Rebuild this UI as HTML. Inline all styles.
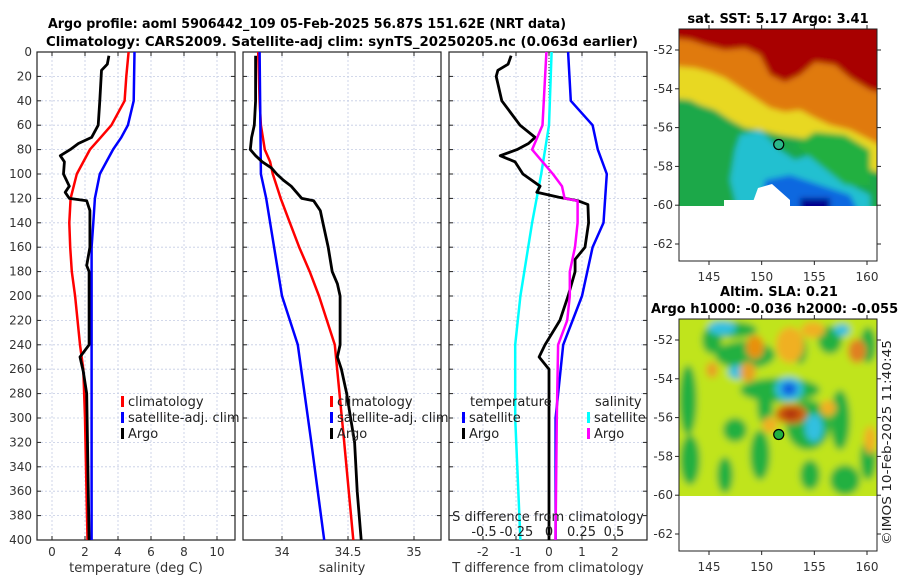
<!DOCTYPE html>
<html><head><meta charset="utf-8"><style>
body{margin:0;background:#fff;}
svg{display:block;font-family:"DejaVu Sans","Liberation Sans",sans-serif;}
</style></head><body>
<svg id="chart" width="900" height="580" viewBox="0 0 900 580">
<defs>
<filter id="blur1" x="-20%" y="-20%" width="140%" height="140%"><feGaussianBlur stdDeviation="3"/></filter>
<filter id="blur2" x="-20%" y="-20%" width="140%" height="140%"><feGaussianBlur stdDeviation="3.5"/></filter>
<clipPath id="clipM1"><rect x="679" y="29" width="198" height="177"/></clipPath>
<clipPath id="clipM2"><rect x="679" y="319" width="198" height="177"/></clipPath>
</defs>
<text x="48" y="28" textLength="518" lengthAdjust="spacingAndGlyphs" font-size="13" font-weight="bold">Argo profile: aoml 5906442_109 05-Feb-2025 56.87S 151.62E (NRT data)</text>
<text x="46" y="46" textLength="592" lengthAdjust="spacingAndGlyphs" font-size="13" font-weight="bold">Climatology: CARS2009. Satellite-adj clim: synTS_20250205.nc (0.063d earlier)</text>
<g id="panels"></g>
<g id="maps"></g>
<text transform="translate(891,545) rotate(-90)" font-size="12" fill="#222" textLength="205" lengthAdjust="spacingAndGlyphs">©IMOS 10-Feb-2025 11:40:45</text>
</svg>
<script>
// ---------- data ----------
const depthTicks=[0,20,40,60,80,100,120,140,160,180,200,220,240,260,280,300,320,340,360,380,400];
const tTicks=[0,2,4,6,8,10];
const sTicks=[34,34.5,35];
const dTTicks=[-2,-1,0,1,2];
const dSTickVals=[-0.5,-0.25,0,0.25,0.5];
const dSTickLabels=["-0.5","-0.25","0","0.25","0.5"];

const tempClimDepth=[0,20,40,60,70,80,100,120,140,160,180,200,240,260,300,400];
const tempClim=[4.64,4.5,4.4,3.6,2.95,2.3,1.5,1.13,1.05,1.1,1.2,1.4,1.7,1.9,2.0,2.15];
const tempSatDepth=[0,40,60,70,80,100,120,140,160,200,400];
const tempSat=[5.0,4.95,4.6,4.2,3.7,2.9,2.6,2.5,2.4,2.4,2.4];
const tempArgoDepth=[3,10,15,40,60,70,75,80,85,90,100,110,115,120,122,130,160,175,180,240,250,262,280,400];
const tempArgo=[3.45,3.35,3.0,2.9,2.8,2.4,1.6,1.1,0.5,0.75,0.7,1.05,0.8,1.05,2.1,2.3,2.3,2.1,2.25,2.25,1.7,1.9,2.1,2.25];

const salClimDepth=[0,40,60,80,90,100,120,140,160,180,200,220,240,318,400];
const salClim=[33.82,33.83,33.84,33.87,33.91,33.93,33.99,34.06,34.13,34.21,34.28,34.34,34.4,34.47,34.54];
const salSatDepth=[0,100,120,160,200,240,318,400];
const salSat=[33.83,33.84,33.88,33.94,34.0,34.12,34.22,34.32];
const salArgoDepth=[3,40,60,70,80,85,90,95,100,105,110,115,120,122,130,140,160,180,190,200,240,250,260,280,300,320,360,400];
const salArgo=[33.8,33.8,33.79,33.77,33.76,33.8,33.85,33.92,33.96,34.01,34.07,34.11,34.15,34.24,34.29,34.31,34.35,34.38,34.42,34.44,34.44,34.42,34.45,34.49,34.52,34.55,34.57,34.6];

const dTSatDepth=[0,40,60,80,100,140,160,200,240,300,400];
const dTSat=[0.58,0.66,1.32,1.48,1.75,1.65,1.32,1.0,0.43,0.2,0.2];
const dTArgoDepth=[3,10,15,20,40,60,70,75,80,85,90,100,110,115,119,122,125,140,160,170,180,200,220,240,250,260,300,400];
const dTArgo=[-1.15,-1.24,-1.55,-1.6,-1.43,-0.88,-0.42,-0.62,-0.97,-1.48,-1.03,-0.79,-0.27,-0.37,0.3,0.88,1.18,1.2,1.09,0.79,0.79,0.58,0.33,-0.12,-0.3,0.0,0.0,0.0];
const dSSatDepth=[0,60,80,100,140,200,240,300,400];
const dSSat=[0.02,0.0,-0.03,-0.06,-0.13,-0.22,-0.26,-0.26,-0.22];
const dSArgoDepth=[0,40,60,70,80,90,100,110,120,122,140,160,180,200,220,240,300,400];
const dSArgo=[-0.02,-0.04,-0.05,-0.09,-0.13,-0.05,0.03,0.1,0.12,0.22,0.22,0.2,0.16,0.16,0.14,0.07,0.06,0.05];

// ---------- helpers ----------
const NS="http://www.w3.org/2000/svg";
function mk(tag,attrs,parent,text){const e=document.createElementNS(NS,tag);for(const k in attrs)e.setAttribute(k,attrs[k]);if(text!==undefined)e.textContent=text;parent.appendChild(e);return e;}
const Y0=52,Y1=540;
const yD=d=>Y0+(d/400)*(Y1-Y0);
function lin(v0,p0,v1,p1){return v=>p0+(v-v0)*(p1-p0)/(v1-v0);}
const panels=document.getElementById('panels');

function panel(name,x0,x1,xs,ticks,labels,xlabel,showY){
  const g=mk('g',{},panels);
  
  
  ticks.forEach(t=>{const l=mk('line',{x1:xs(t),x2:xs(t),y1:Y0,y2:Y1,stroke:'#c4cce4','stroke-width':0.8,'stroke-dasharray':'2,2'},g);
    });
  depthTicks.forEach(d=>{const l=mk('line',{x1:x0,x2:x1,y1:yD(d),y2:yD(d),stroke:'#c4cce4','stroke-width':0.8,'stroke-dasharray':'2,2'},g);
    
    mk('line',{x1:x0,x2:x0+4,y1:yD(d),y2:yD(d),stroke:'#222'},g);mk('line',{x1:x1,x2:x1-4,y1:yD(d),y2:yD(d),stroke:'#222'},g);
    if(showY){const t=mk('text',{x:x0-5,y:yD(d)+4,'text-anchor':'end','font-size':12,fill:'#333'},g,String(d));
      }});
  ticks.forEach((t,i)=>{mk('line',{x1:xs(t),x2:xs(t),y1:Y1,y2:Y1-4,stroke:'#222'},g);mk('line',{x1:xs(t),x2:xs(t),y1:Y0,y2:Y0+4,stroke:'#222'},g);
    if(labels){const tx=mk('text',{x:xs(t),y:Y1+16,'text-anchor':'middle','font-size':12,fill:'#333'},g,labels[i]);
      }});
  const fr=mk('rect',{x:x0,y:Y0,width:x1-x0,height:Y1-Y0,fill:'none',stroke:'#222','stroke-width':1.2},g);
  
  const xl=mk('text',{x:(x0+x1)/2,y:Y1+32,'text-anchor':'middle','font-size':13,fill:'#333'},g,xlabel);
  
  return g;
}
function series(g,name,vals,depths,xs,color,w){
  const pts=vals.map((v,i)=>xs(v).toFixed(1)+','+yD(depths[i]).toFixed(1)).join(' ');
  const p=mk('polyline',{points:pts,fill:'none',stroke:color,'stroke-width':w,'stroke-linejoin':'round'},g);
  
}
function legendEntry(g,name,x,y,color,label){
  const e=mk('g',{},g);
  mk('rect',{x:x,y:y-10,width:3,height:11,fill:color},e);
  mk('text',{x:x+7,y:y,'font-size':13,fill:'#222'},e,label);
}

// panel 1
const xT=lin(0,52,10,217);
const g1=panel('temperature-panel',37,235,xT,tTicks,tTicks.map(String),'temperature (deg C)',true);
series(g1,'temp-climatology-line',tempClim,tempClimDepth,xT,'#ff0000',2.5);
series(g1,'temp-satellite-line',tempSat,tempSatDepth,xT,'#0000ff',2.5);
series(g1,'temp-argo-line',tempArgo,tempArgoDepth,xT,'#000',2.8);
legendEntry(g1,'legend-climatology',121,406,'#ff0000','climatology');
legendEntry(g1,'legend-satellite',121,422,'#0000ff','satellite-adj. clim');
legendEntry(g1,'legend-argo',121,438,'#000','Argo');

// panel 2
const xS=lin(34,282,35,414);
const g2=panel('salinity-panel',243,441,xS,sTicks,sTicks.map(String),'salinity',false);
series(g2,'sal-climatology-line',salClim,salClimDepth,xS,'#ff0000',2.5);
series(g2,'sal-satellite-line',salSat,salSatDepth,xS,'#0000ff',2.5);
series(g2,'sal-argo-line',salArgo,salArgoDepth,xS,'#000',2.8);
legendEntry(g2,'legend-climatology',330,406,'#ff0000','climatology');
legendEntry(g2,'legend-satellite',330,422,'#0000ff','satellite-adj. clim');
legendEntry(g2,'legend-argo',330,438,'#000','Argo');

// panel 3
const xDT=lin(0,549,2,615);
const xDS=lin(0,549,0.5,614);
const g3=panel('difference-panel',449,647,xDT,dTTicks,dTTicks.map(String),'T difference from climatology',false);
const zl=mk('line',{x1:xDT(0),x2:xDT(0),y1:Y0,y2:Y1,stroke:'#333','stroke-width':1,'stroke-dasharray':'1,2'},g3);

series(g3,'dS-satellite-line',dSSat,dSSatDepth,xDS,'#00ffff',2.5);
series(g3,'dT-satellite-line',dTSat,dTSatDepth,xDT,'#0000ff',2.5);
series(g3,'dT-argo-line',dTArgo,dTArgoDepth,xDT,'#000',2.8);
series(g3,'dS-argo-line',dSArgo,dSArgoDepth,xDS,'#ff00ff',2.5);
const lh=mk('text',{x:470,y:406,'font-size':13,fill:'#222'},g3,'temperature');
const lh2=mk('text',{x:595,y:406,'font-size':13,fill:'#222'},g3,'salinity');
legendEntry(g3,'legend-t-satellite',462,422,'#0000ff','satellite');
legendEntry(g3,'legend-t-argo',462,438,'#000','Argo');
legendEntry(g3,'legend-s-satellite',587,422,'#00ffff','satellite');
legendEntry(g3,'legend-s-argo',587,438,'#ff00ff','Argo');
const st=mk('text',{x:548,y:521,'text-anchor':'middle','font-size':13,fill:'#222'},g3,'S difference from climatology');

dSTickVals.forEach((v,i)=>{const t=mk('text',{x:xDS(v),y:536,'text-anchor':'middle','font-size':13,fill:'#222'},g3,dSTickLabels[i]);
  });

// ---------- maps ----------
const maps=document.getElementById('maps');
const lonTicks=[145,150,155,160];
const latTicks=[-52,-54,-56,-58,-60,-62];
const xLon=lin(145,709,160,867);
function mapFrame(name,top,latY){
  const g=mk('g',{},maps);
  latTicks.forEach(l=>{const y=latY(l);mk('line',{x1:679,x2:675,y1:y,y2:y,stroke:'#222'},g);mk('line',{x1:877,x2:881,y1:y,y2:y,stroke:'#222'},g);
    const t=mk('text',{x:673,y:y+4,'text-anchor':'end','font-size':12,fill:'#333'},g,String(l));});
  lonTicks.forEach(l=>{const x=xLon(l);mk('line',{x1:x,x2:x,y1:top,y2:top-4,stroke:'#222'},g);mk('line',{x1:x,x2:x,y1:top+232,y2:top+236,stroke:'#222'},g);
    const t=mk('text',{x:x,y:top+252,'text-anchor':'middle','font-size':12,fill:'#333'},g,String(l));});
  mk('rect',{x:679,y:top,width:198,height:232,fill:'none',stroke:'#222','stroke-width':1},g);
  return g;
}
const lat1=lin(-52,50,-62,244), lat2=lin(-52,340,-62,534);
// map 1 SST
const m1=mk('g',{'clip-path':'url(#clipM1)'},maps);


const sst=mk('g',{filter:'url(#blur1)'},m1);
mk('rect',{x:670,y:20,width:220,height:200,fill:'#1aa84a'},sst);
mk('polygon',{points:'670,20 890,20 890,175 870,170 860,150 840,145 820,142 800,138 780,135 760,130 745,128 730,120 715,110 700,105 690,100 670,98',fill:'#e8d820'},sst);
mk('polygon',{points:'670,20 890,20 890,150 870,140 850,130 830,125 815,118 800,110 785,112 770,108 755,98 740,88 725,78 710,72 695,68 670,66',fill:'#e07a10'},sst);
mk('polygon',{points:'670,20 890,20 890,95 870,90 850,78 835,65 815,62 800,75 785,82 770,75 760,55 745,48 725,50 705,45 690,40 670,38',fill:'#a80000'},sst);
mk('polygon',{points:'740,135 760,130 780,150 795,160 810,155 830,170 850,185 870,195 870,220 740,220 730,180 735,150',fill:'#20c0d0'},sst);
mk('polygon',{points:'765,180 790,175 820,185 850,195 860,215 760,215',fill:'#1068e0'},sst);
mk('polygon',{points:'800,198 830,198 830,215 800,215',fill:'#000090'},sst);
mk('polygon',{points:'795,145 815,132 845,135 870,150 870,185 845,185 820,165',fill:'#20b040'},sst);
mk('polygon',{points:'758,188 772,184 790,200 790,210 750,210',fill:'#ffffff'},m1);
mk('rect',{x:724,y:200,width:30,height:8,fill:'#fff'},m1);
mk('rect',{x:679,y:206,width:198,height:60,fill:'#fff'},m1);
const c1=mk('circle',{cx:xLon(151.62),cy:lat1(-56.87),r:5,fill:'#2ab88a',stroke:'#000','stroke-width':1.2},maps);

mapFrame('sst-map-axes',29,lat1);
const t1=mk('text',{x:778,y:23,'text-anchor':'middle','font-size':13,'font-weight':'bold'},maps,'sat. SST: 5.17 Argo: 3.41');


// map 2 SLA
const m2=mk('g',{'clip-path':'url(#clipM2)'},maps);


const sla=mk('g',{filter:'url(#blur2)'},m2);
mk('rect',{x:670,y:310,width:220,height:200,fill:'#c0e41c'},sla);
const blobs=[
[688,400,9,35,'#20b040'],[690,460,10,25,'#20b040'],[712,340,10,14,'#20b040'],[735,330,22,8,'#20b040'],[745,355,30,14,'#20b040'],[735,430,12,12,'#20b040'],[760,455,10,25,'#20b040'],[780,390,40,12,'#20b040'],
[765,405,8,20,'#20b040'],[808,425,22,25,'#20b040'],[840,420,10,30,'#20b040'],[845,480,15,15,'#20b040'],[810,475,10,15,'#20b040'],[725,475,8,18,'#20b040'],[800,350,7,14,'#20b040'],[830,340,12,14,'#20b040'],[868,345,8,18,'#20b040'],[868,460,8,20,'#20b040'],
[722,328,14,7,'#30c0e0'],[738,372,10,7,'#30c0e0'],[789,389,14,12,'#30c0e0'],[789,389,8,7,'#1060e0'],[814,428,9,14,'#30c0e0'],[842,330,8,6,'#30c0e0'],
[748,372,8,10,'#e8a020'],[755,347,9,12,'#e89010'],[791,414,16,10,'#d06010'],[791,414,8,5,'#b03010'],[790,345,14,18,'#f0b020'],[857,351,9,12,'#e08020'],[813,330,12,8,'#f0b020'],[712,370,6,8,'#e8a020'],[828,408,8,8,'#f0b020'],[870,440,6,14,'#f0b020'],[770,425,8,8,'#f0b020']];
blobs.forEach(b=>mk('ellipse',{cx:b[0],cy:b[1],rx:b[2],ry:b[3],fill:b[4]},sla));
mk('rect',{x:679,y:496,width:198,height:60,fill:'#fff'},m2);
const c2=mk('circle',{cx:xLon(151.62),cy:lat2(-56.87),r:5,fill:'#20b040',stroke:'#000','stroke-width':1.2},maps);

mapFrame('sla-map-axes',319,lat2);
const t2=mk('text',{x:779,y:296,'text-anchor':'middle','font-size':13,'font-weight':'bold'},maps,'Altim. SLA: 0.21');

const t3=mk('text',{x:651,y:313,'font-size':13,'font-weight':'bold'},maps,'Argo h1000: -0.036 h2000: -0.055');

</script>
</body></html>
